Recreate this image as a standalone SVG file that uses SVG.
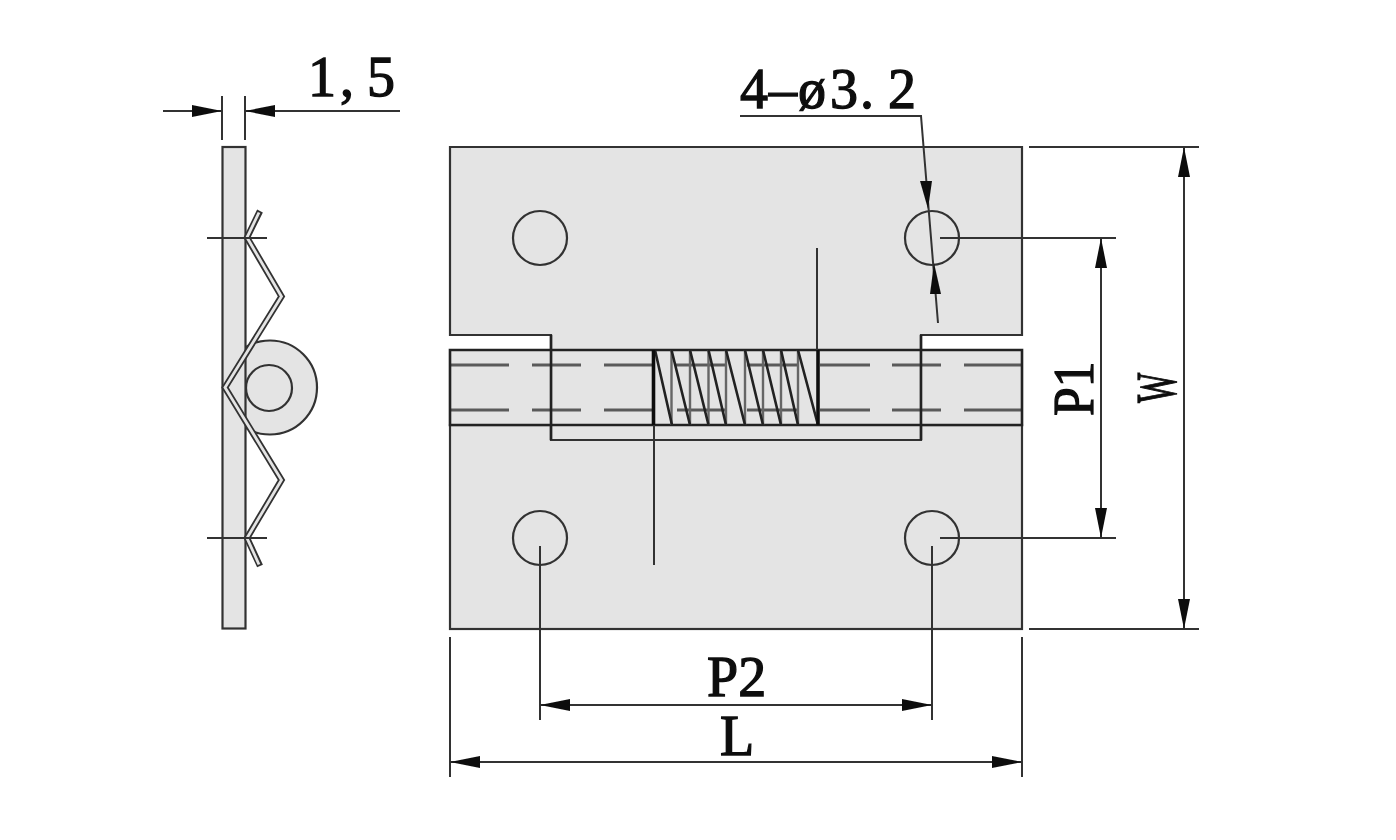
<svg xmlns="http://www.w3.org/2000/svg" width="1396" height="840" viewBox="0 0 1396 840">
<style>
.part{fill:#e4e4e4;stroke:#333;stroke-width:2.2}
.edge{fill:none;stroke:#222;stroke-width:2.6}
.thin{fill:none;stroke:#333;stroke-width:1.8}
.grey{fill:none;stroke:#666;stroke-width:2.4}
.dash{fill:none;stroke:#5a5a5a;stroke-width:2.8}
.dark{fill:none;stroke:#111;stroke-width:3.6}
.dim{fill:none;stroke:#333;stroke-width:2}
.head{fill:#111;stroke:none}
.lbl{font-family:"Liberation Serif","DejaVu Serif",serif;font-size:56px;fill:#111;stroke:#111;stroke-width:1.3}
</style>
<defs>
<marker id="arrow" viewBox="0 0 30 12" refX="30" refY="6" markerWidth="30" markerHeight="12" markerUnits="userSpaceOnUse" orient="auto-start-reverse"><path d="M0 0L30 6L0 12Z" fill="#111"/></marker>
<filter id="soft" x="0" y="0" width="1" height="1"><feGaussianBlur stdDeviation="0.5"/></filter>
</defs>
<rect width="1396" height="840" fill="#fff"/>
<g filter="url(#soft)">
<g id="side-view">
<circle class="part" cx="270" cy="387.5" r="47"/>
<circle class="part" cx="269" cy="388" r="23"/>
<rect class="part" x="222.5" y="147" width="23" height="481.5"/>
<path fill="none" stroke="#333" stroke-width="6.4" d="M260 211L247 237.5L281.5 296.5L225 387.5L281.5 480L247 538L260 566"/>
<path fill="none" stroke="#e4e4e4" stroke-width="2.8" d="M259 212.5L247 237.5L281.5 296.5L225 387.5L281.5 480L247 538L259 564.5"/>
<path class="thin" d="M207 238H267M207 538H267"/>
</g>
<g id="hinge-lower-leaf">
<rect class="part" x="450" y="425" width="572" height="204"/>
<circle class="part" cx="540" cy="538" r="27"/>
<circle class="part" cx="932" cy="538" r="27"/>
</g>
<g id="hinge-upper-leaf">
<path class="part" d="M450 147H1022V335H921V440H551V335H450Z"/>
<circle class="part" cx="540" cy="238" r="27"/>
<circle class="part" cx="932" cy="238" r="27"/>
</g>
<g id="barrel">
<rect x="450" y="350" width="101" height="75" fill="#e4e4e4"/>
<rect x="921" y="350" width="101" height="75" fill="#e4e4e4"/>
<path class="dash" d="M450 365H509M532 365H581M604 365H653M675 365H725M747 365H797M820 365H870M892 365H941M964 365H1022M450 410H509M532 410H581M604 410H653M677 410H725M747 410H797M820 410H870M892 410H941M964 410H1022"/>
<path class="edge" d="M450 350H1022V425H450ZM551 335V440M921 335V440"/>
</g>
<g id="spring">
<path class="grey" d="M671.5 350V425M690 350V425M708.5 350V425M726 350V425M745 350V425M763 350V425M781 350V425M798 350V425"/>
<path class="edge" d="M655 350L672 425M671.5 350L690 425M690 350L708.5 425M708.5 350L726 425M726 350L745 425M745 350L763 425M763 350L781 425M781 350L798 425M798 350L818 425"/>
<path class="dark" d="M653.5 350V425M818 350V425"/>
</g>
<g id="connectors">
<path class="dim" d="M817 248V350M654 425V565"/>
<path class="dim" d="M222 96V140M245 96V140"/>
<path class="dim" marker-end="url(#arrow)" d="M163 111H222"/>
<path class="dim" marker-end="url(#arrow)" d="M400 111H245"/>
<path class="dim" d="M740 116H921L938 323"/>
<polygon class="head" points="928,209 920,181 932,181"/>
<polygon class="head" points="934,263 930,294 941,294"/>
<path class="dim" d="M940 238H1116M940 538H1116M1029 147H1199M1029 629H1199"/>
<path class="dim" marker-start="url(#arrow)" marker-end="url(#arrow)" d="M1101 238V538"/>
<path class="dim" marker-start="url(#arrow)" marker-end="url(#arrow)" d="M1184 147V629"/>
<path class="dim" d="M540 546V720M932 546V720M450 637V777M1022 637V777"/>
<path class="dim" marker-start="url(#arrow)" marker-end="url(#arrow)" d="M540 705H932"/>
<path class="dim" marker-start="url(#arrow)" marker-end="url(#arrow)" d="M450 762H1022"/>
</g>
<g id="labels">
<text class="lbl" x="308 340 367" y="96">1,5</text>
<text class="lbl" x="740 769 798 830 860 888" y="108">4–ø3.2</text>
<text class="lbl" x="707" y="696">P2</text>
<text class="lbl" x="720" y="755">L</text>
<text class="lbl" transform="translate(1093 416) rotate(-90) scale(.92 1)">P1</text>
<text class="lbl" transform="translate(1176 403) rotate(-90) scale(.57 1)">W</text>
</g>
</g>
</svg>
